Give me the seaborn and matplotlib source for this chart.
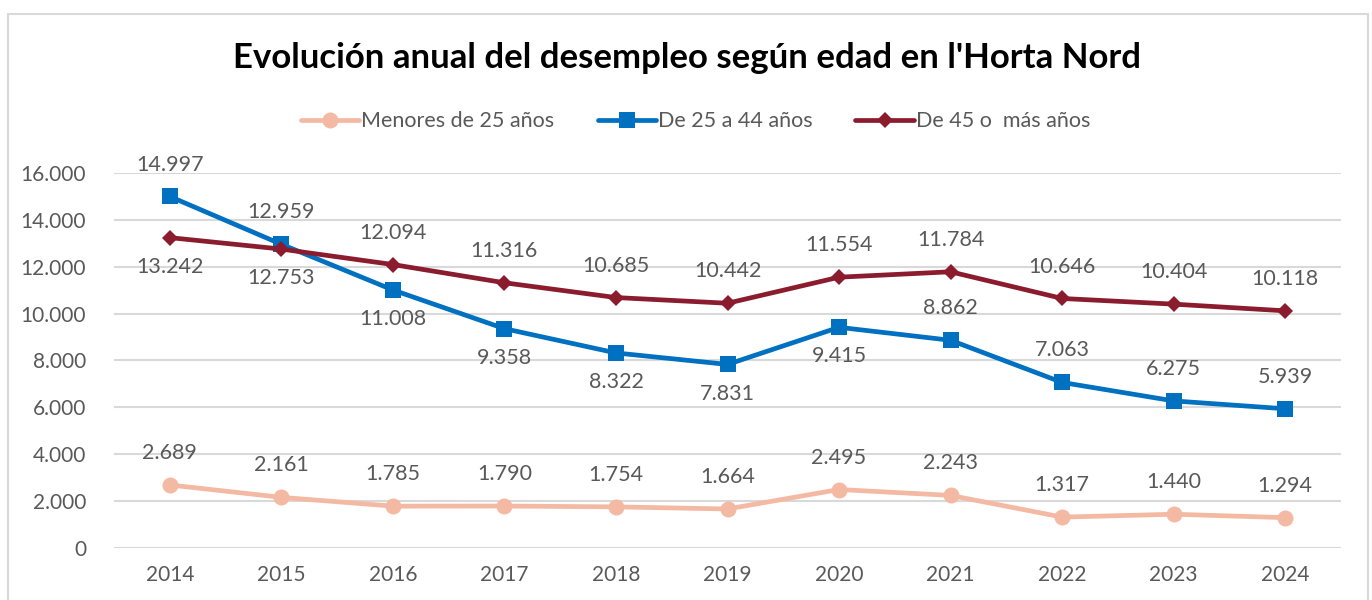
import matplotlib
matplotlib.use("Agg")
import matplotlib.pyplot as plt
import seaborn as sns
import pandas as pd
from matplotlib.patches import Rectangle

years = ["2014", "2015", "2016", "2017", "2018", "2019", "2020", "2021", "2022", "2023", "2024"]
menores_25 = [2689, 2161, 1785, 1790, 1754, 1664, 2495, 2243, 1317, 1440, 1294]
de_25_44 = [14997, 12959, 11008, 9358, 8322, 7831, 9415, 8862, 7063, 6275, 5939]
de_45_mas = [13242, 12753, 12094, 11316, 10685, 10442, 11554, 11784, 10646, 10404, 10118]
series_names = ["Menores de 25 años", "De 25 a 44 años", "De 45 o  más años"]

# label position per point: 1 = above, -1 = below
pos_menores = [1] * 11
pos_25_44 = [1, 1, -1, -1, -1, -1, -1, 1, 1, 1, 1]
pos_45 = [-1, -1, 1, 1, 1, 1, 1, 1, 1, 1, 1]

df = pd.DataFrame({
    "year": years * 3,
    "value": menores_25 + de_25_44 + de_45_mas,
    "serie": [series_names[0]] * 11 + [series_names[1]] * 11 + [series_names[2]] * 11,
})

sns.set_theme(style="white")
plt.rcParams["font.family"] = ["Lato", "DejaVu Sans"]

colors = {series_names[0]: "#F4B9A2", series_names[1]: "#0070C0", series_names[2]: "#8B1C2E"}
markers = {series_names[0]: "o", series_names[1]: "s", series_names[2]: "D"}
sizes = {series_names[0]: 11.5, series_names[1]: 11, series_names[2]: 8.5}

fig = plt.figure(figsize=(13.72, 6.0), dpi=100)
ax = fig.add_axes([0.0831, 0.0867, 0.8943, 0.625])

for name in series_names:
    sub = df[df["serie"] == name]
    sns.lineplot(data=sub, x="year", y="value", ax=ax, color=colors[name],
                 linewidth=3.4, marker=markers[name], markersize=sizes[name],
                 markeredgewidth=0, label=name, sort=False)

grey = "#595959"
for vals, pos in [(menores_25, pos_menores), (de_25_44, pos_25_44), (de_45_mas, pos_45)]:
    for i, (v, p) in enumerate(zip(vals, pos)):
        txt = f"{v:,}".replace(",", ".")
        ax.annotate(txt, (i, v), xytext=(0, 23 if p > 0 else -21), textcoords="offset points",
                    ha="center", va="center", fontsize=15.5, color=grey)

ax.set_xlim(-0.5, 10.5)
ax.set_ylim(0, 16000)
ax.set_yticks(range(0, 16001, 2000))
ax.set_yticklabels([f"{t:,}".replace(",", ".") for t in range(0, 16001, 2000)])
ax.yaxis.grid(True, color="#D9D9D9", linewidth=1.5)
ax.tick_params(axis="both", labelsize=15, colors=grey, length=0)
ax.tick_params(axis="y", pad=20)
ax.tick_params(axis="x", pad=12)
ax.set_xlabel("")
ax.set_ylabel("")
for s in ax.spines.values():
    s.set_visible(False)

ax.legend(loc="center", bbox_to_anchor=(0.474, 1.138), ncol=3, frameon=False,
          fontsize=15.5, labelcolor=grey, handlelength=2.7, handletextpad=0.1,
          columnspacing=2.0)

fig.text(0.501, 0.903, "Evolución anual del desempleo según edad en l'Horta Nord",
         ha="center", va="center", fontsize=25, fontweight="bold", color="black")

fig.patches.append(Rectangle((8 / 1372, -0.05), 1360 / 1372, 1.027, transform=fig.transFigure,
                             fill=False, edgecolor="#D9D9D9", linewidth=1.5))

plt.savefig("out.png", dpi=100)
